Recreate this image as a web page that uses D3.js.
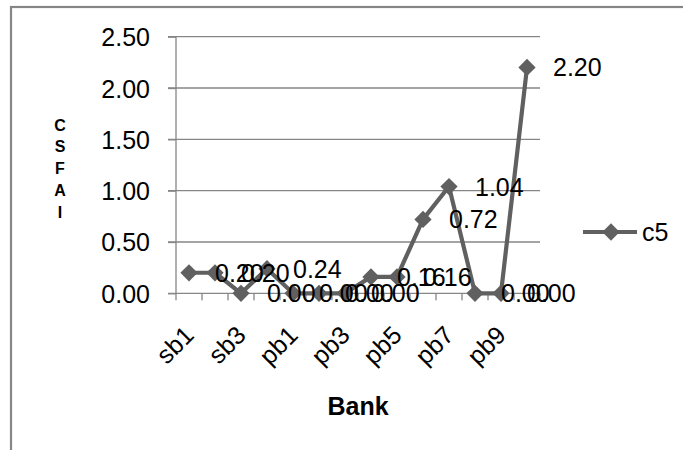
<!DOCTYPE html>
<html>
<head>
<meta charset="utf-8">
<script src="https://cdn.jsdelivr.net/npm/d3@7"></script>
<style>
  html, body { margin: 0; padding: 0; background: #fff; }
  svg { display: block; }
  text { font-family: "Liberation Sans", Arial, sans-serif; fill: #000; }
</style>
</head>
<body>
<svg id="chart" width="683" height="450"></svg>
<script>
// Bank categories and CSFAI values (series c5)
const categories = ["sb1","sb2","sb3","sb4","pb1","pb2","pb3","pb4","pb5","pb6","pb7","pb8","pb9","pb10"];
const c5Values = [0.20, 0.20, 0.00, 0.24, 0.00, 0.00, 0.00, 0.16, 0.16, 0.72, 1.04, 0.00, 0.00, 2.20];
const yTicks = [0, 0.5, 1.0, 1.5, 2.0, 2.5];
const xTickLabels = ["sb1","sb3","pb1","pb3","pb5","pb7","pb9"];
const seriesName = "c5";
const yTitle = ["C","S","F","A","I"];
const xTitle = "Bank";

const svg = d3.select("#chart");
const gray = "#868686";
const lineColor = "#606060";
const fs = "25px";

// outer chart border (runs off the right and bottom edges)
svg.append("rect")
  .attr("x", 11).attr("y", 7)
  .attr("width", 700).attr("height", 460)
  .attr("fill", "none").attr("stroke", gray).attr("stroke-width", 2.2);

const x = d3.scaleBand().domain(categories).range([176, 540]);
const y = d3.scaleLinear().domain([0, 2.5]).range([293.3, 36.7]);

// horizontal gridlines
svg.append("g").selectAll("line").data(yTicks.filter(d => d > 0)).join("line")
  .attr("x1", 168).attr("x2", 540)
  .attr("y1", d => y(d)).attr("y2", d => y(d))
  .attr("stroke", gray).attr("stroke-width", 1.3);

// y axis
const yAxis = d3.axisLeft(y).tickValues(yTicks).tickFormat(d3.format(".2f")).tickSize(8).tickPadding(18);
const gy = svg.append("g").attr("transform", "translate(176,0)").call(yAxis);
gy.select(".domain").attr("stroke", gray).attr("stroke-width", 1.3).attr("d", `M0,${y(2.5)}V${y(0)}`);
gy.selectAll(".tick line").attr("stroke", gray).attr("stroke-width", 1.3);
gy.selectAll(".tick text").style("font-size", fs).attr("fill", "#000").attr("dy", "0.36em");

// x axis line and boundary ticks
svg.append("line")
  .attr("x1", 168).attr("x2", 540).attr("y1", y(0)).attr("y2", y(0))
  .attr("stroke", gray).attr("stroke-width", 1.3);
const boundaries = categories.map(c => x(c)).concat([x.range()[1]]);
svg.append("g").selectAll("line").data(boundaries).join("line")
  .attr("x1", d => d).attr("x2", d => d)
  .attr("y1", y(0)).attr("y2", y(0) + 7)
  .attr("stroke", gray).attr("stroke-width", 1.3);

// rotated category labels (every other category)
svg.append("g").selectAll("text").data(xTickLabels).join("text")
  .attr("text-anchor", "end")
  .attr("transform", d => `translate(${x(d) + x.bandwidth() / 2 - 6},${y(0) + 31}) rotate(-45)`)
  .attr("dy", "0.7em")
  .style("font-size", fs)
  .text(d => d);

// axis titles
svg.append("text")
  .attr("x", 358).attr("y", 415)
  .attr("text-anchor", "middle")
  .style("font-size", fs).style("font-weight", "bold")
  .text(xTitle);
svg.append("g").selectAll("text").data(yTitle).join("text")
  .attr("x", 60).attr("y", (d, i) => 125 + i * 21.7)
  .attr("dy", "0.36em")
  .attr("text-anchor", "middle")
  .style("font-size", "16px").style("font-weight", "bold")
  .text(d => d);

// series line
const data = categories.map((c, i) => ({ c, v: c5Values[i] }));
const cx = d => x(d.c) + x.bandwidth() / 2;
svg.append("path")
  .datum(data)
  .attr("fill", "none").attr("stroke", lineColor).attr("stroke-width", 4.2)
  .attr("stroke-linejoin", "round")
  .attr("d", d3.line().x(cx).y(d => y(d.v)));

// diamond markers
const diamond = d3.symbol().type(d3.symbolDiamond2).size(190);
svg.append("g").selectAll("path").data(data).join("path")
  .attr("transform", d => `translate(${cx(d)},${y(d.v)})`)
  .attr("d", diamond)
  .attr("fill", lineColor);

// value labels
svg.append("g").selectAll("text").data(data).join("text")
  .attr("x", d => cx(d) + 26)
  .attr("y", d => y(d.v))
  .attr("dy", "0.36em")
  .style("font-size", fs)
  .text(d => d.v.toFixed(2));

// legend
const lg = svg.append("g").attr("transform", "translate(583,232)");
lg.append("line").attr("x1", 0).attr("x2", 54).attr("y1", 0).attr("y2", 0)
  .attr("stroke", lineColor).attr("stroke-width", 4.2);
lg.append("path").attr("transform", "translate(28,0)").attr("d", diamond).attr("fill", lineColor);
lg.append("text").attr("x", 59).attr("y", 0).attr("dy", "0.36em")
  .style("font-size", fs).text(seriesName);
</script>
</body>
</html>
